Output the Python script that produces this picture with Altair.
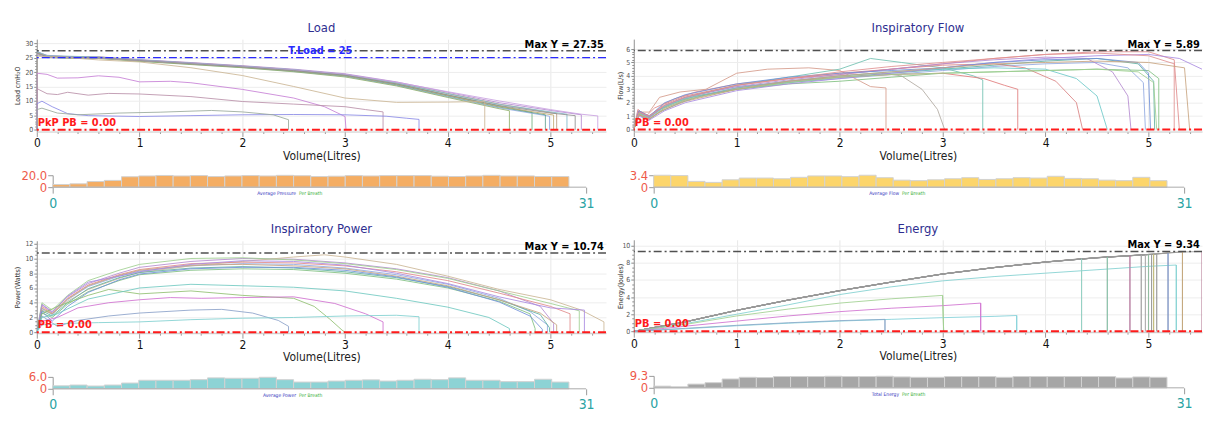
import altair as alt
import pandas as pd

FONT = "DejaVu Sans Condensed"

# ---------------- Load (cmH2O) vs volume ----------------
load_01 = [(0,0),(0,26.9),(0.1,25.4),(0.3,25.2),(0.6,25.1),(1,24.1),(1.5,23.0),(2,21.9),(2.5,20.6),(3,18.9),(3.5,15.9),(4,12.0),(4.5,8.3),(4.82,6.0),(4.82,0)]
load_02 = [(0,0),(0,27.3),(0.1,25.0),(0.3,24.9),(0.6,24.8),(1,23.8),(1.5,22.7),(2,21.6),(2.5,20.2),(3,18.5),(3.5,15.4),(4,11.4),(4.5,7.6),(4.99,4.7),(4.99,0)]
load_03 = [(0,0),(0,26.5),(0.1,25.6),(0.3,25.4),(0.6,25.2),(1,24.2),(1.5,23.2),(2,22.1),(2.5,20.8),(3,19.2),(3.5,16.3),(4,12.6),(4.5,8.9),(5.06,5.6),(5.06,0)]
load_04 = [(0,0),(0,26.0),(0.1,25.3),(0.3,25.0),(0.6,24.9),(1,23.9),(1.5,22.9),(2,21.7),(2.5,20.4),(3,18.7),(3.5,15.6),(4,11.7),(4.5,7.9),(4.95,5.2),(4.95,0)]
load_05 = [(0,0),(0,27.0),(0.1,25.8),(0.3,25.3),(0.6,25.3),(1,24.3),(1.5,23.3),(2,22.2),(2.5,21.0),(3,19.4),(3.5,16.6),(4,13.0),(4.5,9.4),(5,6.7),(5.3,5.2),(5.3,0)]
load_06 = [(0,0),(0,26.4),(0.1,25.1),(0.3,24.8),(0.6,24.7),(1,23.7),(1.5,22.6),(2,21.5),(2.5,20.1),(3,18.3),(3.5,15.2),(4,11.2),(4.5,7.3),(4.6,6.6),(4.6,0)]
load_07 = [(0,0),(0,26.7),(0.1,25.5),(0.3,25.1),(0.6,25.0),(1,24.0),(1.5,22.9),(2,21.8),(2.5,20.5),(3,18.8),(3.5,15.8),(4,11.9),(4.5,8.1),(5.03,5.1),(5.03,0)]
load_08 = [(0,0),(0,27.1),(0.1,25.7),(0.3,25.5),(0.6,25.2),(1,24.2),(1.5,23.1),(2,22.0),(2.5,20.8),(3,19.1),(3.5,16.2),(4,12.5),(4.5,8.8),(5,6.2),(5.16,5.4),(5.16,0)]
load_09 = [(0,0),(0,26.2),(0.1,25.2),(0.3,25.0),(0.6,24.9),(1,24.0),(1.5,23.0),(2,21.9),(2.5,20.7),(3,19.2),(3.5,16.5),(4,13.2),(4.5,10.0),(5,7.0),(5.3,5.4),(5.46,4.8),(5.46,0)]
load_10 = [(0,0),(0,26.6),(0.1,25.3),(0.3,25.1),(0.6,25.0),(1,24.0),(1.5,22.9),(2,21.8),(2.5,20.5),(3,18.9),(3.5,15.9),(4,12.1),(4.5,8.4),(5,5.8),(5.24,4.9),(5.24,0)]
load_11 = [(0,0),(0,25.5),(0.3,25.0),(0.6,24.2),(1,23.5),(1.5,21.5),(2,18.8),(2.5,15.0),(3,11.0),(3.5,9.5),(4,9.6),(4.36,9.8),(4.36,0)]
load_12 = [(0,0),(0,19.6),(0.1,19.2),(0.2,17.9),(0.4,18.0),(0.6,18.7),(0.8,18.2),(1,16.6),(1.3,16.8),(1.5,16.3),(2,14.0),(2.5,11.0),(2.8,8.0),(3.0,4.6),(3.01,0)]
load_13 = [(0,0),(0,14.3),(0.1,12.5),(0.2,12.2),(0.3,13.0),(0.5,12.0),(0.7,12.6),(1,12.4),(1.5,11.5),(2,9.8),(2.5,8.9),(3,8.0),(3.2,7.0),(3.37,6.2),(3.37,0)]
load_14 = [(0,0),(0,9.0),(0.05,9.9),(0.15,8.0),(0.3,5.6),(0.5,4.9),(1,4.6),(1.5,4.9),(2,5.2),(2.5,5.3),(3,5.2),(3.4,4.7),(3.6,4.0),(3.72,3.6),(3.72,0)]
load_15 = [(0,0),(0,7.0),(0.05,7.5),(0.2,5.8),(0.4,5.2),(0.8,5.8),(1.2,6.1),(1.7,6.7),(2.0,6.2),(2.3,5.2),(2.45,3.5),(2.45,0)]
load_curves = [load_01, load_02, load_03, load_04, load_05, load_06, load_07, load_08,
               load_09, load_10, load_11, load_12, load_13, load_14, load_15]
load_colors = ["#6fae7f", "#8fa8e0", "#b89a7e", "#5fa090", "#b48ad0", "#8fb06a", "#c0a870", "#80b8c8",
               "#c9a0e0", "#909090", "#cbb594", "#c67fd6", "#b98fa8", "#8a8ae6", "#98a89a"]

# ---------------- Inspiratory flow (L/s) vs volume ----------------
flow_01 = [(0,0),(0.04,1.4),(0.12,0.9),(0.2,1.3),(0.4,2.1),(0.6,2.6),(1,3.2),(1.5,3.5),(2,3.8),(2.5,4.1),(3,4.4),(3.5,4.7),(4,4.9),(4.5,5.0),(4.8,4.6),(4.95,3.5),(4.97,0)]
flow_02 = [(0,0),(0.05,1.2),(0.13,0.8),(0.25,1.5),(0.4,2.0),(0.6,2.5),(1,3.0),(1.5,3.4),(2,3.6),(2.5,3.9),(3,4.2),(3.5,4.3),(4,4.4),(4.5,4.5),(5,4.4),(5.1,3.8),(5.1,0)]
flow_03 = [(0,0),(0.04,1.5),(0.12,1.0),(0.2,1.6),(0.4,2.3),(0.6,2.8),(1,3.4),(1.5,3.8),(2,4.1),(2.5,4.5),(3,4.9),(3.5,5.3),(4,5.6),(4.5,5.8),(5,5.8),(5.25,5.2),(5.3,0)]
flow_04 = [(0,0),(0.05,1.1),(0.14,0.7),(0.25,1.3),(0.45,2.0),(0.7,2.6),(1,3.0),(1.5,3.5),(2,3.9),(2.5,4.2),(3,4.5),(3.5,4.8),(4,5.1),(4.5,5.3),(4.9,4.9),(5.05,3.6),(5.06,0)]
flow_05 = [(0,0),(0.05,1.3),(0.15,1.3),(0.25,2.4),(0.45,2.8),(0.7,3.0),(1.0,4.2),(1.3,4.5),(1.7,4.6),(2.0,4.4),(2.2,3.6),(2.3,3.2),(2.45,3.1),(2.45,0)]
flow_06 = [(0,0),(0.05,1.2),(0.15,0.9),(0.3,1.7),(0.5,2.3),(1,3.1),(1.5,3.6),(2,4.0),(2.4,4.2),(2.6,4.0),(2.8,3.0),(2.95,1.5),(3.02,0)]
flow_07 = [(0,0),(0.05,1.3),(0.15,0.9),(0.3,1.8),(0.5,2.4),(1,3.3),(1.5,3.9),(2,4.5),(2.3,5.3),(2.6,5.0),(3,4.6),(3.3,4.0),(3.39,3.7),(3.39,0)]
flow_08 = [(0,0),(0.05,1.1),(0.15,0.8),(0.3,1.6),(0.5,2.2),(1,3.1),(1.5,3.6),(2,3.9),(2.5,4.1),(3,4.2),(3.4,3.8),(3.6,3.3),(3.73,3.0),(3.73,0)]
flow_09 = [(0,0),(0.05,1.4),(0.15,1.0),(0.3,1.9),(0.5,2.5),(1,3.3),(1.5,3.8),(2,4.2),(2.5,4.5),(3,4.8),(3.5,4.9),(3.8,4.6),(4.1,3.6),(4.3,2.0),(4.36,0)]
flow_10 = [(0,0),(0.05,1.2),(0.15,0.9),(0.3,1.7),(0.5,2.3),(1,3.1),(1.5,3.6),(2,4.0),(2.5,4.3),(3,4.5),(3.5,4.6),(4,4.5),(4.3,3.8),(4.5,2.5),(4.6,0)]
flow_11 = [(0,0),(0.05,1.3),(0.15,0.9),(0.3,1.8),(0.5,2.4),(1,3.2),(1.5,3.7),(2,4.1),(2.5,4.5),(3,4.9),(3.5,5.2),(4,5.4),(4.4,5.3),(4.65,4.3),(4.8,2.5),(4.83,0)]
flow_12 = [(0,0),(0.05,1.0),(0.15,0.7),(0.3,1.4),(0.5,2.0),(1,2.9),(1.5,3.4),(2,3.8),(2.5,4.2),(3,4.6),(3.5,5.0),(4,5.3),(4.5,5.5),(5,5.6),(5.3,5.3),(5.52,4.5)]
flow_13 = [(0,0),(0.05,1.4),(0.15,1.0),(0.3,2.0),(0.5,2.6),(1,3.4),(1.5,3.9),(2,4.2),(2.5,4.4),(3,4.6),(3.5,5.0),(4,5.2),(4.5,5.3),(4.9,5.0),(5.0,4.2),(5.02,0)]
flow_14 = [(0,0),(0.05,1.2),(0.15,0.8),(0.3,1.6),(0.5,2.2),(1,3.0),(1.5,3.5),(2,3.9),(2.5,4.1),(3,4.2),(3.5,4.3),(4,4.4),(4.5,4.5),(4.9,4.3),(5.05,3.5),(5.08,0)]
flow_15 = [(0,0),(0.05,1.3),(0.15,1.0),(0.3,1.8),(0.5,2.4),(1,3.3),(1.5,3.8),(2,4.3),(2.5,4.7),(3,5.0),(3.5,5.3),(4,5.6),(4.5,5.7),(5,5.5),(5.25,4.9),(5.25,0)]
flow_16 = [(0,0),(0.05,1.1),(0.15,0.8),(0.3,1.5),(0.5,2.1),(1,3.0),(1.5,3.6),(2,4.0),(2.5,4.3),(3,4.6),(3.5,4.9),(4,5.0),(4.5,5.1),(5,5.0),(5.35,4.6),(5.4,0)]
flow_curves = [flow_01, flow_02, flow_03, flow_04, flow_05, flow_06, flow_07, flow_08,
               flow_09, flow_10, flow_11, flow_12, flow_13, flow_14, flow_15, flow_16]
flow_colors = ["#8fa8e0", "#7fbf7f", "#e08a8a", "#5fb0a0", "#d49a8a", "#b0a8a0", "#70c0b0", "#e07a7a",
               "#d98080", "#6cc8c8", "#b48ad0", "#a98ae0", "#6f8fd8", "#9fcf8f", "#e09090", "#c7a27e"]

# ---------------- Inspiratory power (W) vs volume ----------------
pow_01 = [(0,0),(0.05,3.2),(0.15,2.4),(0.3,4.4),(0.5,6.2),(0.8,7.6),(1,8.3),(1.5,9.0),(2,9.3),(2.5,9.2),(3,8.7),(3.5,7.8),(4,6.5),(4.5,4.6),(4.8,2.8),(4.97,1.0),(4.97,0)]
pow_02 = [(0,0),(0.05,3.8),(0.15,2.8),(0.3,4.8),(0.5,6.6),(0.8,8.0),(1,8.8),(1.5,9.6),(2,10.0),(2.5,9.9),(3,9.4),(3.5,8.6),(4,7.4),(4.5,5.6),(4.9,3.5),(5.03,1.2),(5.03,0)]
pow_03 = [(0,0),(0.05,2.6),(0.15,2.0),(0.3,3.8),(0.5,5.5),(0.8,7.0),(1,7.8),(1.5,8.4),(2,8.6),(2.5,8.5),(3,8.0),(3.5,7.2),(4,6.0),(4.5,4.2),(4.8,2.5),(4.85,0.5),(4.85,0)]
pow_04 = [(0,0),(0.05,3.0),(0.15,2.5),(0.3,4.2),(0.5,5.8),(0.8,7.3),(1,8.1),(1.5,9.0),(2,9.6),(2.5,10.2),(2.8,10.5),(3,10.2),(3.5,9.2),(4,7.6),(4.5,5.8),(5,4.4),(5.3,3.0),(5.52,1.4),(5.52,0)]
pow_05 = [(0,0),(0.05,3.5),(0.15,2.6),(0.3,4.6),(0.5,6.4),(0.8,7.8),(1,8.5),(1.5,9.3),(2,9.5),(2.5,9.4),(3,9.0),(3.5,8.2),(4,7.0),(4.5,5.3),(5,3.5),(5.19,2.5),(5.19,0)]
pow_06 = [(0,0),(0.05,2.9),(0.15,2.2),(0.3,4.0),(0.5,5.9),(0.8,7.4),(1,8.1),(1.5,8.7),(2,8.9),(2.5,8.7),(3,8.2),(3.5,7.4),(4,6.2),(4.5,4.4),(4.9,2.4),(4.99,0.6),(4.99,0)]
pow_07 = [(0,0),(0.05,4.0),(0.15,3.0),(0.3,5.0),(0.5,7.0),(0.8,8.4),(1,9.2),(1.5,10.0),(2,10.1),(2.5,9.8),(3,9.3),(3.5,8.5),(4,7.3),(4.5,5.6),(5,3.9),(5.28,2.9),(5.28,0)]
pow_08 = [(0,0),(0.05,3.3),(0.15,2.5),(0.3,4.5),(0.5,6.3),(0.8,7.7),(1,8.4),(1.5,9.1),(2,9.2),(2.5,9.0),(3,8.6),(3.5,7.6),(4,6.3),(4.5,4.4),(4.9,2.6),(5.06,1.0),(5.06,0)]
pow_09 = [(0,0),(0.05,3.7),(0.15,2.7),(0.3,4.9),(0.5,6.8),(0.8,7.6),(1,8.2),(1.5,9.2),(2,9.7),(2.5,9.6),(3,9.1),(3.5,8.0),(4,6.6),(4.5,4.8),(5,3.3),(5.33,3.0),(5.33,0)]
pow_10 = [(0,0),(0.05,2.8),(0.15,1.5),(0.3,3.5),(0.5,5.4),(0.8,7.1),(1,7.9),(1.5,8.6),(2,8.8),(2.5,8.8),(3,8.4),(3.5,7.5),(4,6.1),(4.5,4.1),(4.8,2.2),(4.92,0.4),(4.92,0)]
pow_11 = [(0,0),(0.05,2.5),(0.2,3.5),(0.5,5.0),(0.7,5.8),(1,5.2),(1.5,5.6),(2,5.0),(2.5,4.6),(2.7,3.5),(2.85,1.8),(2.97,0.3),(3.0,0)]
pow_12 = [(0,0),(0.05,1.5),(0.2,2.0),(0.4,3.3),(0.7,4.0),(1,4.4),(1.3,4.7),(1.6,4.6),(2,4.7),(2.5,4.8),(2.9,3.9),(3.2,2.5),(3.37,1.4),(3.37,0)]
pow_13 = [(0,0),(0.05,2.2),(0.2,0.8),(0.4,1.6),(0.7,2.2),(1,2.6),(1.5,3.0),(1.8,3.1),(2.1,2.6),(2.35,1.6),(2.45,0.8),(2.45,0)]
pow_14 = [(0,0),(0.05,1.0),(0.3,1.2),(0.6,1.3),(1,1.4),(1.5,1.7),(2,1.9),(2.5,2.0),(3,2.2),(3.5,2.3),(3.72,2.1),(3.72,0)]
pow_15 = [(0,0),(0.05,2.0),(0.2,2.5),(0.5,4.5),(1,6.0),(1.5,6.5),(2,6.3),(2.5,6.1),(3,5.6),(3.5,4.6),(4,3.4),(4.4,2.0),(4.6,0.5),(4.6,0)]
pow_curves = [pow_01, pow_02, pow_03, pow_04, pow_05, pow_06, pow_07, pow_08,
              pow_09, pow_10, pow_11, pow_12, pow_13, pow_14, pow_15]
pow_colors = ["#8fa8e0", "#b48ad0", "#7fbf7f", "#cbb594", "#e08a8a", "#5fb0a0", "#9fcf8f", "#c7a27e",
              "#a98ae0", "#6f8fd8", "#8fbf70", "#d070d0", "#8aa0c8", "#7fd0d0", "#70c8c0"]

# ---------------- Energy (J) vs volume ----------------
en_01 = [(0,0),(0.2,0.45),(0.5,1.1),(1,2.45),(1.5,3.65),(2,4.75),(2.5,5.75),(3,6.7),(3.5,7.45),(4,8.1),(4.35,8.5),(4.35,0)]
en_02 = [(0,0),(0.2,0.44),(0.5,1.1),(1,2.44),(1.5,3.64),(2,4.74),(2.5,5.74),(3,6.69),(3.5,7.45),(4,8.1),(4.6,8.7),(4.6,0)]
en_03 = [(0,0),(0.2,0.46),(0.5,1.12),(1,2.46),(1.5,3.66),(2,4.76),(2.5,5.76),(3,6.71),(3.5,7.46),(4,8.11),(4.5,8.6),(4.82,8.85),(4.82,0)]
en_04 = [(0,0),(0.2,0.45),(0.5,1.1),(1,2.45),(1.5,3.65),(2,4.75),(2.5,5.75),(3,6.7),(3.5,7.45),(4,8.1),(4.5,8.6),(5,8.96),(5.19,9.15),(5.19,0)]
en_05 = [(0,0),(0.2,0.46),(0.5,1.12),(1,2.47),(1.5,3.67),(2,4.77),(2.5,5.77),(3,6.72),(3.5,7.47),(4,8.12),(4.5,8.63),(5,8.99),(5.33,9.3),(5.33,0)]
en_06 = [(0,0),(0.2,0.45),(0.5,1.1),(1,2.45),(1.5,3.65),(2,4.75),(2.5,5.75),(3,6.7),(3.5,7.45),(4,8.1),(4.5,8.6),(5,8.98),(5.3,9.25),(5.52,9.34),(5.52,0)]
en_07 = [(0,0),(0.2,0.45),(0.5,1.1),(1,2.45),(1.5,3.65),(2,4.75),(2.5,5.75),(3,6.7),(3.5,7.45),(4,8.1),(4.5,8.6),(4.93,8.92),(4.93,0)]
en_08 = [(0,0),(0.2,0.45),(0.5,1.11),(1,2.46),(1.5,3.66),(2,4.76),(2.5,5.75),(3,6.7),(3.5,7.46),(4,8.11),(4.5,8.61),(4.97,8.95),(4.97,0)]
en_09 = [(0,0),(0.2,0.44),(0.5,1.09),(1,2.44),(1.5,3.64),(2,4.74),(2.5,5.74),(3,6.69),(3.5,7.44),(4,8.09),(4.5,8.59),(5.0,8.97),(5.0,0)]
en_10 = [(0,0),(0.2,0.46),(0.5,1.11),(1,2.46),(1.5,3.66),(2,4.76),(2.5,5.76),(3,6.71),(3.5,7.46),(4,8.11),(4.5,8.62),(5.03,9.0),(5.03,0)]
en_11 = [(0,0),(0.2,0.45),(0.5,1.1),(1,2.45),(1.5,3.65),(2,4.75),(2.5,5.75),(3,6.7),(3.5,7.45),(4,8.1),(4.5,8.6),(5.05,9.02),(5.05,0)]
en_12 = [(0,0),(0.2,0.45),(0.5,1.1),(1,2.45),(1.5,3.65),(2,4.75),(2.5,5.75),(3,6.7),(3.5,7.45),(4,8.1),(4.5,8.61),(5.08,9.05),(5.08,0)]
en_13 = [(0,0),(0.3,0.5),(0.5,0.9),(1,2.0),(1.5,3.1),(2,4.3),(2.5,5.2),(3,5.9),(3.5,6.4),(4,6.8),(4.5,7.2),(5,7.6),(5.27,7.75),(5.27,0)]
en_14 = [(0,0),(0.3,0.5),(0.5,0.8),(1,1.8),(1.5,2.6),(2,3.3),(2.5,3.8),(3.0,4.2),(3.01,0)]
en_15 = [(0,0),(0.3,0.35),(0.5,0.6),(1,1.2),(1.5,1.8),(2,2.3),(2.5,2.7),(3,3.0),(3.37,3.3),(3.37,0)]
en_16 = [(0,0),(0.5,0.3),(1,0.65),(1.5,0.95),(2,1.2),(2.5,1.4),(3,1.6),(3.5,1.75),(3.72,1.85),(3.72,0)]
en_17 = [(0,0),(0.5,0.35),(1,0.7),(1.5,1.0),(2,1.25),(2.44,1.4),(2.44,0)]
en_curves = [en_01, en_02, en_03, en_04, en_05, en_06, en_07, en_08, en_09,
             en_10, en_11, en_12, en_13, en_14, en_15, en_16, en_17]
# colour of each breath's trace, and colour of its end-of-breath drop
en_colors = ["#9a9a9a", "#9c9c9c", "#989898", "#9a9a9a", "#a09a90", "#9a9a9a", "#969696", "#9a9a9a",
             "#989898", "#9c9c9c", "#9a9a9a", "#989898", "#80d0d0", "#9fcf8f", "#d070d0", "#80d0d8", "#8aa8c8"]
en_drop_colors = ["#8fd8c8", "#7fc8a8", "#c46aa0", "#6f8fd8", "#c8a878", "#d890b0", "#a8a8a8", "#b0b0b0",
                  "#8fc0a0", "#9a9a9a", "#c8c070", "#a0a0a0", "#80d0d0", "#9fcf8f", "#d070d0", "#80d0d8", "#8aa8c8"]

# ---------------- per-breath bars ----------------
load_bars = [4.4, 5.6, 9.4, 11.3, 17.5, 18.8, 19.6, 18.8, 19.4, 17.8, 18.8, 19.4, 18.8, 19.8, 19.2,
             17.8, 18.4, 19.4, 18.8, 19.4, 19.4, 19.4, 18.4, 17.9, 18.8, 19.8, 18.8, 18.8, 17.9, 17.8]
flow_bars = [3.4, 3.3, 1.65, 1.36, 2.1, 2.6, 2.6, 2.4, 2.8, 3.2, 3.2, 3.0, 3.4, 2.7, 2.0,
             1.85, 2.1, 2.4, 2.7, 2.2, 2.4, 2.7, 2.6, 3.1, 2.5, 2.4, 2.0, 1.85, 2.8, 1.85]
pow_bars = [1.5, 1.9, 1.4, 1.9, 2.9, 4.3, 4.3, 4.3, 4.6, 5.5, 5.3, 5.3, 5.8, 4.6, 3.4,
            3.4, 3.9, 4.3, 4.5, 3.9, 4.3, 4.8, 4.6, 5.5, 4.3, 4.3, 3.6, 3.6, 4.8, 3.4]
en_bars = [1.3, 0.8, 2.9, 4.0, 6.9, 8.2, 8.0, 8.8, 8.8, 8.8, 9.0, 8.8, 8.8, 9.0, 8.5,
           8.2, 8.2, 8.8, 8.8, 8.8, 8.2, 8.8, 8.8, 8.8, 8.8, 8.8, 8.8, 7.7, 8.5, 8.2]

LW = 573   # plot width left column
RW = 572   # plot width right column
LH = 93    # line plot height
BH = 12    # bar plot height

X_MAJOR = [0, 1, 2, 3, 4, 5]
X_TICKS = [round(k * 0.2, 1) for k in range(28)]   # axis ruler: major + minor ticks


def curves_df(curves, colors, part="all"):
    rows = []
    for k, pts in enumerate(curves):
        seq = pts if part == "all" else pts[-2:]
        for j, (v, y) in enumerate(seq):
            rows.append({"b": f"c{k:02d}", "o": j, "v": v, "y": y, "col": colors[k]})
    return pd.DataFrame(rows)


def major_test(vals):
    return "indexof([" + ",".join(str(v) for v in vals) + "], datum.value) >= 0"


def line_panel(title, curves, colors, ytitle, ydom, yticks, yminor, maxy, pb_text, width, xmax, ext,
               tload=None, drop_colors=None):
    df = curves_df(curves, colors)
    xt = major_test(X_MAJOR)
    yt = major_test(yticks)
    x = alt.X("v:Q", scale=alt.Scale(domain=[0, xmax], nice=False, zero=False),
              axis=alt.Axis(values=X_TICKS, title="Volume(Litres)",
                            labelExpr=f"{xt} ? format(datum.value, 'd') : ''",
                            grid=True, gridColor="#e8e8e8",
                            gridOpacity={"condition": {"test": xt, "value": 1}, "value": 0},
                            tickSize={"condition": {"test": xt, "value": 5}, "value": 2},
                            labelFontSize=12, labelColor="#111",
                            titleFontSize=12, titleColor="#222", titleFontWeight="normal",
                            tickColor="#999", domainColor="#c8c8c8", labelPadding=1,
                            titlePadding=2, labelFlush=False, labelOverlap=False,
                            labelFont=FONT, titleFont=FONT))
    y = alt.Y("y:Q", scale=alt.Scale(domain=ydom, nice=False, zero=False),
              axis=alt.Axis(values=yminor, title=ytitle,
                            labelExpr=f"{yt} ? format(datum.value, 'd') : ''",
                            grid=True, gridColor="#ededed",
                            gridOpacity={"condition": {"test": yt, "value": 1}, "value": 0},
                            tickSize={"condition": {"test": yt, "value": 3}, "value": 2},
                            labelFontSize=7, labelColor="#555", titleFontSize=7, titleColor="#333",
                            titleFontWeight="normal", tickColor="#888", domainColor="#999",
                            labelPadding=1, titlePadding=2, minExtent=ext, maxExtent=ext,
                            labelOverlap=False, labelFont=FONT, titleFont=FONT))
    lines = alt.Chart(df).mark_line(strokeWidth=1, opacity=0.85, clip=True).encode(
        x=x, y=y, detail="b:N", order="o:Q",
        color=alt.Color("col:N", scale=None, legend=None))
    layers = [lines]
    if drop_colors is not None:
        ddf = curves_df(curves, drop_colors, part="drop")
        layers.append(alt.Chart(ddf).mark_line(strokeWidth=1, opacity=0.9, clip=True).encode(
            x=x, y=y, detail="b:N", order="o:Q",
            color=alt.Color("col:N", scale=None, legend=None)))
    maxdf = pd.DataFrame({"v": [xmax - 0.02], "y": [maxy], "t": [f"Max Y = {maxy:.2f}"]})
    layers.append(alt.Chart(maxdf).mark_rule(color="#505050", strokeWidth=1.5, strokeDash=[8, 3, 2, 3]).encode(y=y))
    if tload is not None:
        trule = pd.DataFrame({"y": [tload]})
        ttext = pd.DataFrame({"v": [2.76], "y": [maxy], "t": [f"T.Load = {tload}"]})
        layers.append(alt.Chart(trule).mark_rule(color="#2a2aff", strokeWidth=1.5, strokeDash=[8, 3, 2, 3]).encode(y=y))
        layers.append(alt.Chart(ttext).mark_text(font=FONT, fontSize=11, fontWeight="bold", color="#2a2aff",
                                                 baseline="middle").encode(x=x, y=y, text="t:N"))
    zdf = pd.DataFrame({"v": [0.01], "y": [0.0], "t": [pb_text]})
    layers.append(alt.Chart(zdf).mark_rule(color="#ff1a1a", strokeWidth=2, strokeDash=[8, 3, 2, 3]).encode(y=y))
    layers.append(alt.Chart(zdf).mark_text(font=FONT, fontSize=11, fontWeight="bold", color="#ff1a1a",
                                           align="left", baseline="bottom", dy=-2).encode(x=x, y=y, text="t:N"))
    layers.append(alt.Chart(maxdf).mark_text(font=FONT, fontSize=11, fontWeight="bold", color="#000",
                                             align="right", baseline="bottom", dy=-1).encode(x=x, y=y, text="t:N"))
    return alt.layer(*layers).properties(
        width=width, height=LH,
        title=alt.TitleParams(title, fontSize=13, color="#2e2e90", font=FONT, fontWeight="normal",
                              anchor="middle", frame="group", offset=4))


def bar_panel(vals, color, ymax, cap1, cap2, width, left_px, right_px, capx):
    k = (width - left_px - right_px) / 31.0
    xdom = [-left_px / k, 31 + right_px / k]
    df = pd.DataFrame({"i": list(range(len(vals))), "i2": [n + 1 for n in range(len(vals))],
                       "val": vals, "z": [0.0] * len(vals)})
    x = alt.X("i:Q", scale=alt.Scale(domain=xdom, nice=False, zero=False),
              axis=alt.Axis(values=[0, 31], title=None, grid=False, domain=False, tickSize=6,
                            tickColor="#999", labelColor="#2aa3a3", labelFontSize=14, labelPadding=3,
                            labelFlush=False, labelOverlap=False, labelFont=FONT))
    y = alt.Y("val:Q", scale=alt.Scale(domain=[0, ymax], nice=False, zero=True),
              axis=alt.Axis(values=[0, ymax], title=None, grid=False, labelOverlap=False,
                            labelExpr="datum.value == 0 ? '0' : format(datum.value, '.1f')",
                            labelColor="#ee5a4a", labelFontSize=13, tickSize=5, tickColor="#999",
                            domainColor="#999", offset=-left_px, labelPadding=1, labelFont=FONT))
    bars = alt.Chart(df).mark_rect(color=color, stroke="#d2d2d2", strokeWidth=1).encode(
        x=x, x2="i2", y=y, y2="z")
    base = alt.Chart(pd.DataFrame({"i": [0], "i2": [31], "val": [0.0]})).mark_rule(color="#aaaaaa").encode(x=x, x2="i2", y=y)
    c1 = alt.Chart(pd.DataFrame({"i": [capx], "val": [0.0], "t": [cap1]})).mark_text(
        font=FONT, fontSize=5, color="#3a3ac0", align="right", baseline="top", dy=4, dx=-1).encode(x=x, y=y, text="t:N")
    c2 = alt.Chart(pd.DataFrame({"i": [capx], "val": [0.0], "t": [cap2]})).mark_text(
        font=FONT, fontSize=5, color="#3cb03c", align="left", baseline="top", dy=4, dx=2).encode(x=x, y=y, text="t:N")
    return alt.layer(bars, base, c1, c2).properties(width=width, height=BH)


load_line = line_panel("Load", load_curves, load_colors, "Load cmH\u2082O", [-0.6, 31.4],
                       [0, 5, 10, 15, 20, 25, 30], list(range(0, 31)),
                       27.35, "PkP PB = 0.00", LW, 5.54, 14, tload=25)
load_bar = bar_panel(load_bars, "#f4ad63", 20.0, "Average Pressure", "Per Breath", LW, 16, 20, 14.2)
pow_line = line_panel("Inspiratory Power", pow_curves, pow_colors, "Power(Watts)", [-0.13, 12.4],
                      [0, 2, 4, 6, 8, 10, 12], [round(k * 0.5, 1) for k in range(25)],
                      10.74, "PB = 0.00", LW, 5.54, 14)
pow_bar = bar_panel(pow_bars, "#8dd3d5", 6.0, "Average Power", "Per Breath", LW, 16, 20, 14.2)

flow_line = line_panel("Inspiratory Flow", flow_curves, flow_colors, "Flow(L/s)", [-0.15, 6.74],
                       [0, 1, 2, 3, 4, 5, 6], [round(k * 0.2, 1) for k in range(31)],
                       5.89, "PB = 0.00", RW, 5.52, 8)
flow_bar = bar_panel(flow_bars, "#fcd56b", 3.4, "Average Flow", "Per Breath", RW, 20, 18, 14.4)
en_line = line_panel("Energy", en_curves, en_colors, "Energy(Joules)", [-0.1, 10.7],
                     [0, 2, 4, 6, 8, 10], [round(k * 0.5, 1) for k in range(21)],
                     9.34, "PB = 0.00", RW, 5.52, 8, drop_colors=en_drop_colors)
en_bar = bar_panel(en_bars, "#a6a6a6", 9.3, "Total Energy", "Per Breath", RW, 20, 18, 14.4)

left_col = alt.vconcat(alt.vconcat(load_line, load_bar, spacing=8),
                       alt.vconcat(pow_line, pow_bar, spacing=8), spacing=12)
right_col = alt.vconcat(alt.vconcat(flow_line, flow_bar, spacing=8),
                        alt.vconcat(en_line, en_bar, spacing=8), spacing=12)

chart = alt.hconcat(left_col, right_col, spacing=10).properties(
    padding={"left": 6, "top": 12, "right": 0, "bottom": 0}
).configure(font=FONT, background="white").configure_view(strokeWidth=0, stroke="transparent")

chart.save("out.html", embed_options={"renderer": "svg", "actions": False})
